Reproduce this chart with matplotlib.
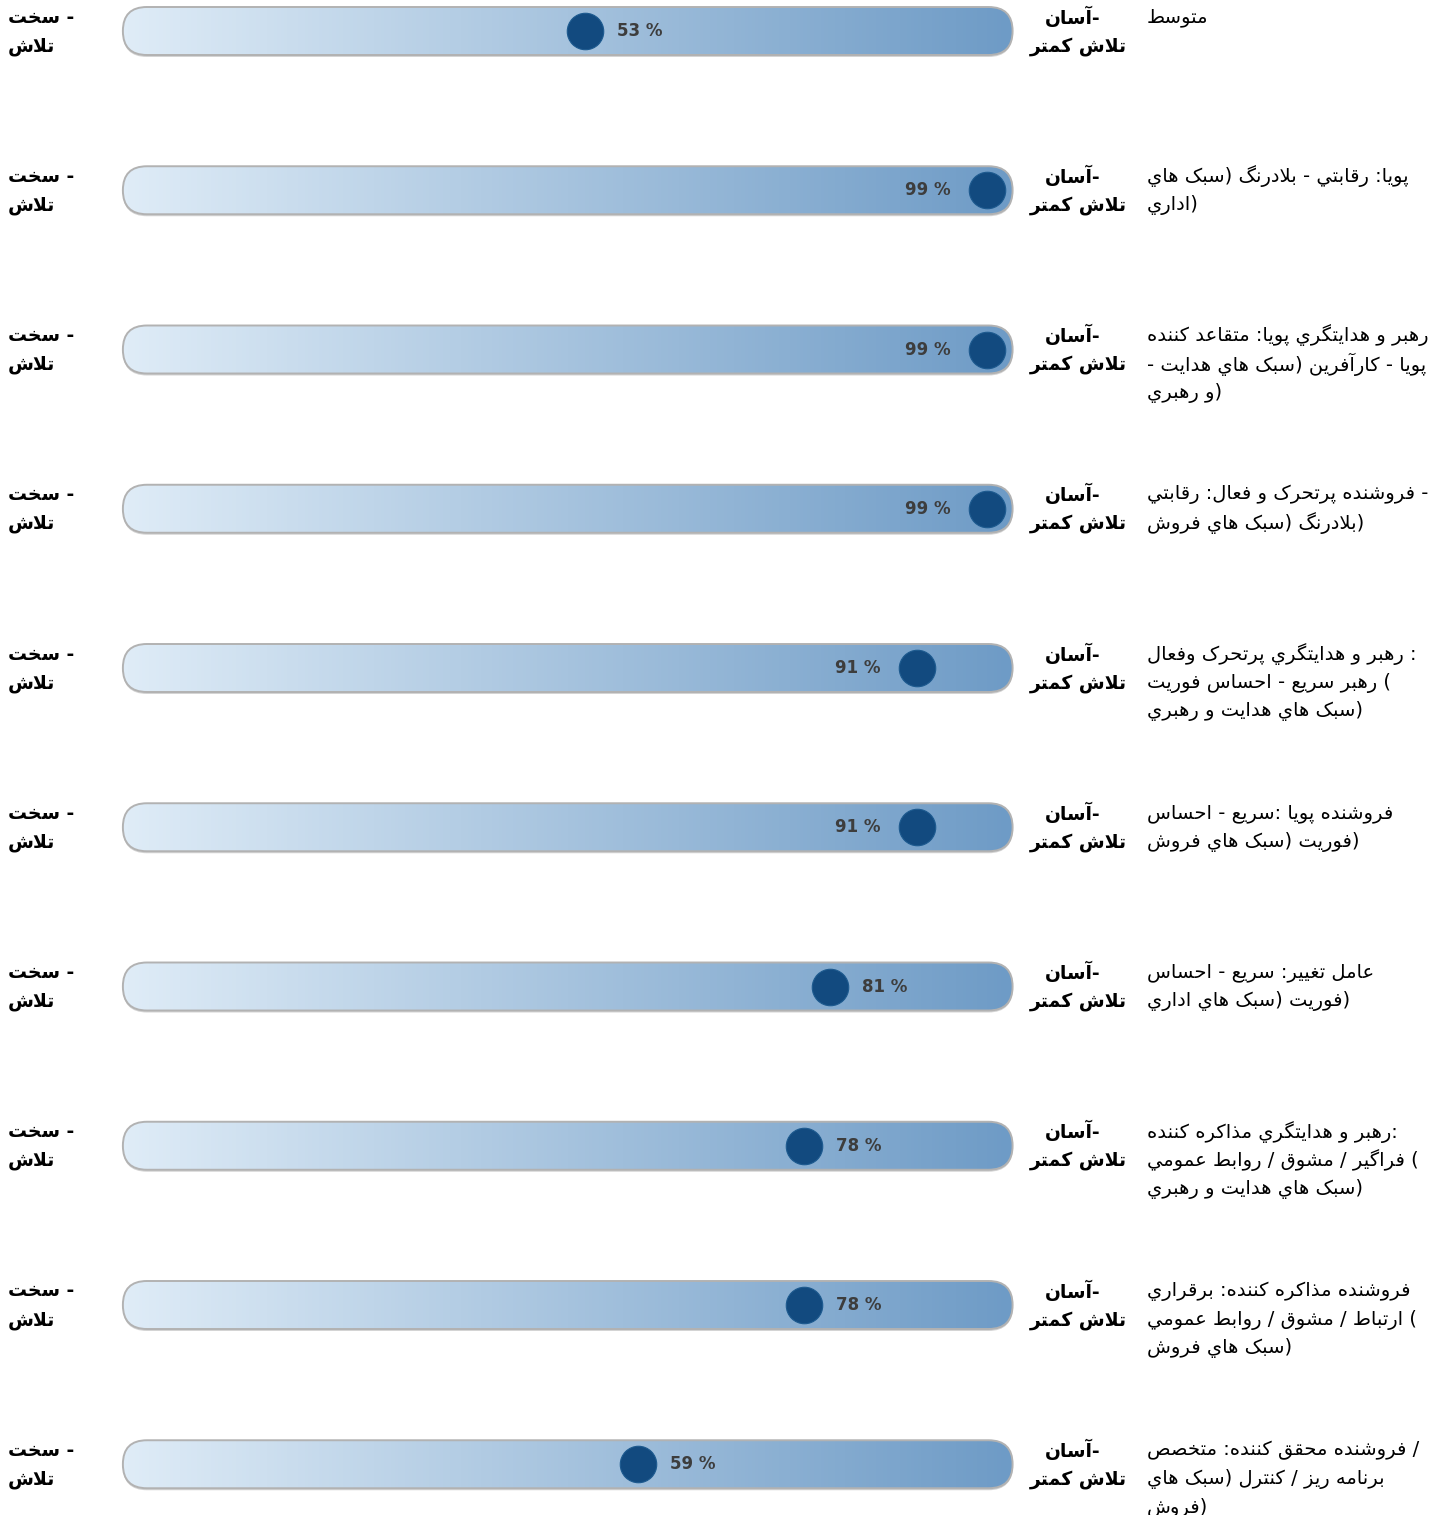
import unicodedata
import numpy as np
import matplotlib
matplotlib.use("Agg")
import matplotlib.pyplot as plt
from matplotlib.patches import FancyBboxPatch
from matplotlib.colors import LinearSegmentedColormap

# data
labels = [
    "متوسط",
    "پويا: رقابتي - بلادرنگ (سبک هاي\nاداري)",
    "رهبر و هدايتگري پويا: متقاعد کننده\n- پويا - کارآفرين (سبک هاي هدايت\nو رهبري)",
    "فروشنده پرتحرک و فعال: رقابتي -\nبلادرنگ (سبک هاي فروش)",
    "رهبر و هدايتگري پرتحرک وفعال :\nرهبر سريع - احساس فوريت (\nسبک هاي هدايت و رهبري)",
    "فروشنده پويا :سريع - احساس\nفوريت (سبک هاي فروش)",
    "عامل تغيير: سريع - احساس\nفوريت (سبک هاي اداري)",
    "رهبر و هدايتگري مذاکره کننده:\nفراگير / مشوق / روابط عمومي (\nسبک هاي هدايت و رهبري)",
    "فروشنده مذاکره کننده: برقراري\nارتباط / مشوق / روابط عمومي (\nسبک هاي فروش)",
    "فروشنده محقق کننده: متخصص /\nبرنامه ريز / کنترل (سبک هاي\nفروش)",
]
values = [53, 99, 99, 99, 91, 91, 81, 78, 78, 59]
left_end = "سخت -\nتلاش"
right_end = "آسان-\nتلاش کمتر"

# --- small arabic shaping + bidi (matplotlib has no complex text layout) ---
FORMS = {}
LIG = {}
for cp in list(range(0xFB50, 0xFE00)) + list(range(0xFE70, 0xFF00)):
    d = unicodedata.decomposition(chr(cp))
    if not d.startswith("<"):
        continue
    parts = d.split()
    tag = parts[0].strip("<>")
    if tag not in ("isolated", "final", "initial", "medial"):
        continue
    s = "".join(chr(int(c, 16)) for c in parts[1:])
    if len(s) == 1:
        FORMS.setdefault(s, {}).setdefault(tag, chr(cp))
    elif len(s) == 2 and s[0] == "\u0644":
        LIG.setdefault(s, {}).setdefault(tag, chr(cp))

MIRROR = {"(": ")", ")": "("}


def joins(c):
    return c in FORMS


def dual(c):
    return c in FORMS and "medial" in FORMS[c]


def visual_line(line):
    ch = list(line)
    n = len(ch)
    gl = []
    i = 0
    while i < n:
        c = ch[i]
        if joins(c):
            lp = i > 0 and dual(ch[i - 1])
            if c == "\u0644" and i + 1 < n and c + ch[i + 1] in LIG:
                gl.append((LIG[c + ch[i + 1]]["final" if lp else "isolated"], "R"))
                i += 2
                continue
            ln_ = i + 1 < n and dual(c) and joins(ch[i + 1])
            form = {(True, True): "medial", (True, False): "final",
                    (False, True): "initial", (False, False): "isolated"}[(lp, ln_)]
            gl.append((FORMS[c].get(form, c), "R"))
        elif c.isalnum():
            gl.append((c, "L"))
        else:
            gl.append((c, "N"))
        i += 1
    # neutrals take the side direction if both agree, else ltr
    t = [d for _, d in gl]
    res = list(t)
    k = 0
    while k < len(t):
        if t[k] != "N":
            k += 1
            continue
        j = k
        while j < len(t) and t[j] == "N":
            j += 1
        a = t[k - 1] if k > 0 else "L"
        b = t[j] if j < len(t) else "L"
        for m in range(k, j):
            res[m] = a if a == b else "L"
        k = j
    vis = []
    k = 0
    while k < len(gl):
        if res[k] == "R":
            j = k
            while j < len(gl) and res[j] == "R":
                j += 1
            vis.extend(reversed([MIRROR.get(g, g) for g, _ in gl[k:j]]))
            k = j
        else:
            vis.append(gl[k][0])
            k += 1
    return "".join(vis)


def layout(text):
    return [visual_line(s) for s in text.split("\n")]


# --- layout ---
W, H, DPI = 1447, 1515, 100
PX0, PX_PCT = 122, 8.74        # pixel of 0 % and pixels per percent
ROW0, PITCH = 31, 159.25       # first row centre and row pitch in pixels
BAR_L, BAR_R = 0.1, 101.9      # bar ends in percent units
half_h = 24 / PITCH
rx = 24 / PX_PCT
LS = 28.5                      # label line spacing, pixels

fig = plt.figure(figsize=(W / DPI, H / DPI), dpi=DPI)
ax = fig.add_axes([0, 0, 1, 1])
ax.axis("off")

cmap = LinearSegmentedColormap.from_list("bar", ["#dfecf7", "#a6c3de", "#6e9bc6"])
grad = np.linspace(0, 1, 256).reshape(1, -1)

left_lines = layout(left_end)
right_lines = layout(right_end)

for i, (lab, v) in enumerate(zip(labels, values)):
    y = i
    sh = FancyBboxPatch((BAR_L, y - half_h + 2.0 / PITCH), BAR_R - BAR_L, 2 * half_h,
                        boxstyle=f"round,pad=0,rounding_size={rx}",
                        mutation_aspect=half_h / rx, fc="#d4d4d4", ec="none", zorder=1)
    ax.add_patch(sh)
    pill = FancyBboxPatch((BAR_L, y - half_h), BAR_R - BAR_L, 2 * half_h,
                          boxstyle=f"round,pad=0,rounding_size={rx}",
                          mutation_aspect=half_h / rx, fc="none", ec="#b2b2b2",
                          lw=1.4, zorder=3)
    ax.add_patch(pill)
    im = ax.imshow(grad, extent=(BAR_L, BAR_R, y + half_h, y - half_h),
                   aspect="auto", cmap=cmap, interpolation="bilinear", zorder=2)
    im.set_clip_path(pill)

    ax.scatter([v], [y], s=690, color="#124a7f", edgecolors="#1d5a8f",
               linewidths=0.8, zorder=4)
    if v > 85:
        ax.annotate(f"{v} %", (v, y), xytext=(-37, 0), textcoords="offset pixels",
                    ha="right", va="center", fontsize=12, fontweight="bold",
                    color="#3d3d3d", zorder=5)
    else:
        ax.annotate(f"{v} %", (v, y), xytext=(32, 0), textcoords="offset pixels",
                    ha="left", va="center", fontsize=12, fontweight="bold",
                    color="#3d3d3d", zorder=5)

    for k, ln in enumerate(left_lines):
        ax.annotate(ln, (8 / W, y), xycoords=("figure fraction", "data"),
                    xytext=(0, 14 - 29 * k), textcoords="offset pixels",
                    ha="left", va="center", fontsize=13.5, fontweight="bold", color="black")
    for k, ln in enumerate(right_lines):
        ax.annotate(ln, ([1045, 1030][k] / W, y), xycoords=("figure fraction", "data"),
                    xytext=(0, 14 - 29 * k), textcoords="offset pixels",
                    ha="left", va="center", fontsize=13.5, fontweight="bold", color="black")
    for k, ln in enumerate(layout(lab)):
        ax.annotate(ln, (1147 / W, y), xycoords=("figure fraction", "data"),
                    xytext=(0, 14 - LS * k), textcoords="offset pixels",
                    ha="left", va="center", fontsize=14, color="black")

ax.set_xlim(-PX0 / PX_PCT, (W - PX0) / PX_PCT)
ax.set_ylim((H - ROW0) / PITCH, -ROW0 / PITCH)

fig.savefig("out.png", dpi=DPI, facecolor="white")
